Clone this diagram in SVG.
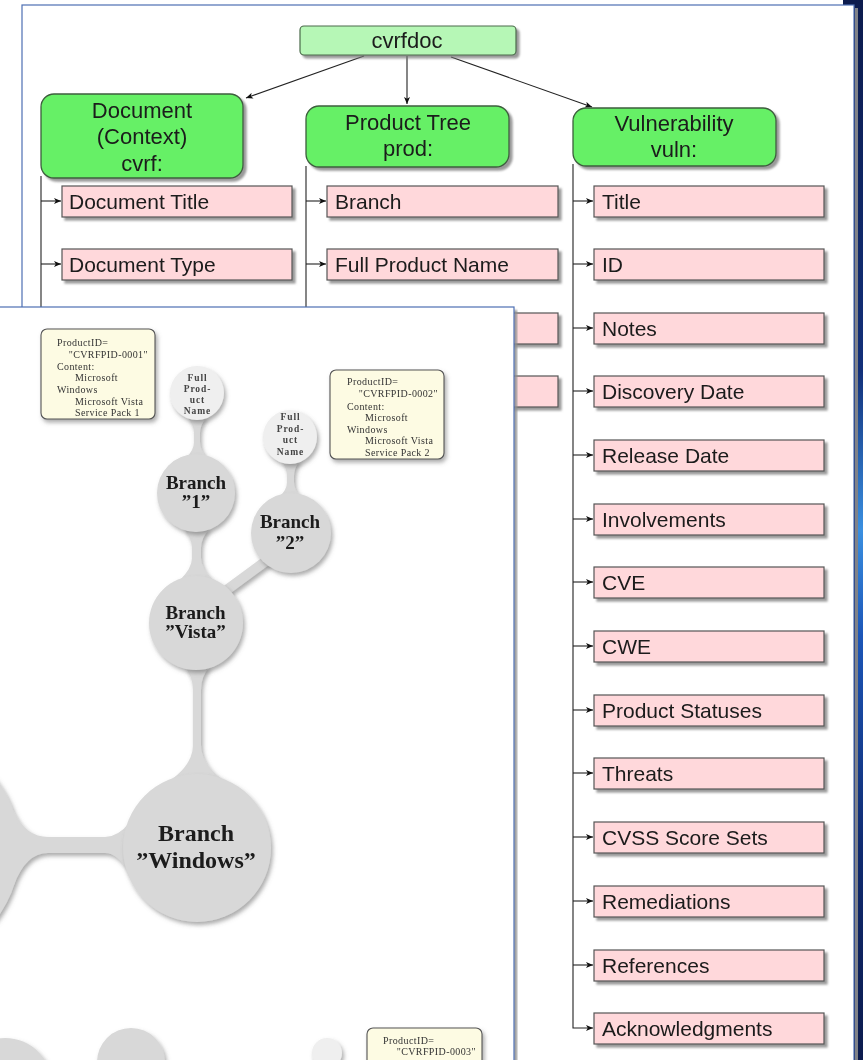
<svg xmlns="http://www.w3.org/2000/svg" width="863" height="1060" viewBox="0 0 863 1060">
<defs>
<style>
.pk{fill:#ffd8db;stroke:#555;stroke-width:1.2}
.gr{fill:#66f066;stroke:#3d5e3d;stroke-width:1.3}
.lbl{font-family:"Liberation Sans",Arial,sans-serif;font-size:21px;fill:#1a1a1a}
.glbl{font-family:"Liberation Sans",Arial,sans-serif;font-size:22px;fill:#1a1a1a;text-anchor:middle}
.ln{fill:none;stroke:#222;stroke-width:1.1}
.note{fill:#fdfbe3;stroke:#555;stroke-width:1.1}
.nt{font-family:"Liberation Serif","Times New Roman",serif;font-size:10px;letter-spacing:0.4px;fill:#333}
.bub{fill:#d8d8d8}
.fpn{fill:#efefef}
.ft{font-family:"Liberation Serif","Times New Roman",serif;font-size:9.5px;font-weight:bold;letter-spacing:0.9px;fill:#444;text-anchor:middle}
.bt{font-family:"Liberation Serif","Times New Roman",serif;font-size:19px;font-weight:bold;fill:#1a1a1a;text-anchor:middle}
.btw{font-family:"Liberation Serif","Times New Roman",serif;font-size:24px;font-weight:bold;fill:#1a1a1a;text-anchor:middle}
</style>
<marker id="arr" viewBox="0 0 7 6" refX="7" refY="3" markerWidth="7" markerHeight="6" markerUnits="userSpaceOnUse" orient="auto">
<path d="M0,0 L7,3 L0,6 L1.8,3 Z" fill="#111"/>
</marker>
<filter id="sh" x="-10%" y="-10%" width="130%" height="140%">
<feDropShadow dx="3" dy="3" stdDeviation="1" flood-color="#777" flood-opacity="0.75"/>
</filter>
<filter id="bsh" x="-20%" y="-20%" width="150%" height="150%">
<feDropShadow dx="2" dy="3" stdDeviation="2" flood-color="#666" flood-opacity="0.55"/>
</filter>
<filter id="blur1"><feGaussianBlur stdDeviation="1.2"/></filter>
<linearGradient id="desk" x1="0" y1="0" x2="0" y2="1">
<stop offset="0" stop-color="#0c1b4d"/>
<stop offset="0.35" stop-color="#12307a"/>
<stop offset="0.5" stop-color="#3a8fe0"/>
<stop offset="0.6" stop-color="#1c56b8"/>
<stop offset="0.8" stop-color="#0f2a70"/>
<stop offset="1" stop-color="#0c1b4d"/>
</linearGradient>
</defs>

<!-- background / desktop -->
<rect x="0" y="0" width="863" height="1060" fill="#ffffff"/>
<rect x="843" y="0" width="20" height="1060" fill="#0c1b4d"/>
<rect x="857" y="0" width="6" height="1060" fill="url(#desk)"/>
<rect x="855" y="8" width="3" height="1060" fill="#808288"/>

<!-- main frame -->
<rect x="22" y="5" width="832" height="1080" fill="#ffffff" stroke="#4d6fb3" stroke-width="1.2"/>

<!-- connectors of the cvrfdoc tree -->
<g id="connectors">
<line class="ln" x1="364" y1="56" x2="246" y2="98" marker-end="url(#arr)"/>
<line class="ln" x1="407" y1="56" x2="407" y2="104" marker-end="url(#arr)"/>
<line class="ln" x1="451" y1="57" x2="592" y2="107" marker-end="url(#arr)"/>
<path class="ln" d="M41 176 V1060"/>
<path class="ln" d="M41 201 H61" marker-end="url(#arr)"/>
<path class="ln" d="M41 264 H61" marker-end="url(#arr)"/>
<path class="ln" d="M306 166 V1060"/>
<path class="ln" d="M306 201 H326" marker-end="url(#arr)"/>
<path class="ln" d="M306 264 H326" marker-end="url(#arr)"/>
<path class="ln" d="M306 328 H326" marker-end="url(#arr)"/>
<path class="ln" d="M306 391 H326" marker-end="url(#arr)"/>
<path class="ln" d="M573 164 V1028 H593" marker-end="url(#arr)"/>
<path class="ln" d="M573 201 H593" marker-end="url(#arr)"/>
<path class="ln" d="M573 264 H593" marker-end="url(#arr)"/>
<path class="ln" d="M573 328 H593" marker-end="url(#arr)"/>
<path class="ln" d="M573 391 H593" marker-end="url(#arr)"/>
<path class="ln" d="M573 455 H593" marker-end="url(#arr)"/>
<path class="ln" d="M573 519 H593" marker-end="url(#arr)"/>
<path class="ln" d="M573 582 H593" marker-end="url(#arr)"/>
<path class="ln" d="M573 646 H593" marker-end="url(#arr)"/>
<path class="ln" d="M573 710 H593" marker-end="url(#arr)"/>
<path class="ln" d="M573 773 H593" marker-end="url(#arr)"/>
<path class="ln" d="M573 837 H593" marker-end="url(#arr)"/>
<path class="ln" d="M573 901 H593" marker-end="url(#arr)"/>
<path class="ln" d="M573 965 H593" marker-end="url(#arr)"/>
</g>

<!-- top nodes -->
<g id="cvrfdoc" filter="url(#sh)">
<rect x="300" y="26" width="216" height="29" rx="4" fill="#b6f7b6" stroke="#4a6a4a" stroke-width="1.2"/>
<text class="glbl" x="407" y="48">cvrfdoc</text>
</g>
<g id="document" filter="url(#sh)">
<rect class="gr" x="41" y="94" width="202" height="84" rx="13"/>
<text class="glbl" x="142" y="118">Document</text>
<text class="glbl" x="142" y="144">(Context)</text>
<text class="glbl" x="142" y="171">cvrf:</text>
</g>
<g id="product-tree" filter="url(#sh)">
<rect class="gr" x="306" y="106" width="203" height="61" rx="13"/>
<text class="glbl" x="408" y="130">Product Tree</text>
<text class="glbl" x="408" y="156">prod:</text>
</g>
<g id="vulnerability" filter="url(#sh)">
<rect class="gr" x="573" y="108" width="203" height="58" rx="13"/>
<text class="glbl" x="674" y="131">Vulnerability</text>
<text class="glbl" x="674" y="157">vuln:</text>
</g>

<!-- document column -->
<g id="doc-title" filter="url(#sh)"><rect class="pk" x="62" y="186" width="230" height="31"/><text class="lbl" x="69" y="208.5">Document Title</text></g>
<g id="doc-type" filter="url(#sh)"><rect class="pk" x="62" y="249" width="230" height="31"/><text class="lbl" x="69" y="271.5">Document Type</text></g>

<!-- product column -->
<g id="prod-branch" filter="url(#sh)"><rect class="pk" x="327" y="186" width="231" height="31"/><text class="lbl" x="335" y="208.5">Branch</text></g>
<g id="prod-fpn" filter="url(#sh)"><rect class="pk" x="327" y="249" width="231" height="31"/><text class="lbl" x="335" y="271.5">Full Product Name</text></g>
<g id="prod-row3" filter="url(#sh)"><rect class="pk" x="327" y="313" width="231" height="31"/></g>
<g id="prod-row4" filter="url(#sh)"><rect class="pk" x="327" y="376" width="231" height="31"/></g>

<!-- vulnerability column -->
<g id="v-title" filter="url(#sh)"><rect class="pk" x="594" y="186" width="230" height="31"/><text class="lbl" x="602" y="208.5">Title</text></g>
<g id="v-id" filter="url(#sh)"><rect class="pk" x="594" y="249" width="230" height="31"/><text class="lbl" x="602" y="271.5">ID</text></g>
<g id="v-notes" filter="url(#sh)"><rect class="pk" x="594" y="313" width="230" height="31"/><text class="lbl" x="602" y="335.5">Notes</text></g>
<g id="v-discovery" filter="url(#sh)"><rect class="pk" x="594" y="376" width="230" height="31"/><text class="lbl" x="602" y="398.5">Discovery Date</text></g>
<g id="v-release" filter="url(#sh)"><rect class="pk" x="594" y="440" width="230" height="31"/><text class="lbl" x="602" y="462.5">Release Date</text></g>
<g id="v-involvements" filter="url(#sh)"><rect class="pk" x="594" y="504" width="230" height="31"/><text class="lbl" x="602" y="526.5">Involvements</text></g>
<g id="v-cve" filter="url(#sh)"><rect class="pk" x="594" y="567" width="230" height="31"/><text class="lbl" x="602" y="589.5">CVE</text></g>
<g id="v-cwe" filter="url(#sh)"><rect class="pk" x="594" y="631" width="230" height="31"/><text class="lbl" x="602" y="653.5">CWE</text></g>
<g id="v-statuses" filter="url(#sh)"><rect class="pk" x="594" y="695" width="230" height="31"/><text class="lbl" x="602" y="717.5">Product Statuses</text></g>
<g id="v-threats" filter="url(#sh)"><rect class="pk" x="594" y="758" width="230" height="31"/><text class="lbl" x="602" y="780.5">Threats</text></g>
<g id="v-cvss" filter="url(#sh)"><rect class="pk" x="594" y="822" width="230" height="31"/><text class="lbl" x="602" y="844.5">CVSS Score Sets</text></g>
<g id="v-remediations" filter="url(#sh)"><rect class="pk" x="594" y="886" width="230" height="31"/><text class="lbl" x="602" y="908.5">Remediations</text></g>
<g id="v-references" filter="url(#sh)"><rect class="pk" x="594" y="950" width="230" height="31"/><text class="lbl" x="602" y="972.5">References</text></g>
<g id="v-ack" filter="url(#sh)"><rect class="pk" x="594" y="1013" width="230" height="31"/><text class="lbl" x="602" y="1035.5">Acknowledgments</text></g>

<!-- overlaid mind-map screenshot -->
<rect x="514" y="310" width="3" height="760" fill="#8f8f8f" filter="url(#blur1)"/>
<rect x="-2" y="307" width="516" height="770" fill="#ffffff" stroke="#4d6fb3" stroke-width="1.2"/>

<g id="mindmap-shapes" filter="url(#bsh)">
<path class="bub" d="M187 416 Q194 425 194 433 L194 442 Q194 450 186 458 L207 458 Q200 450 200 442 L200 433 Q200 425 207 416 Z"/>
<path class="bub" d="M281 460 Q287 468 287 476 L287 482 Q287 490 279 497 L301 497 Q294 490 294 482 L294 476 Q294 468 300 460 Z"/>
<path class="bub" d="M183 528 Q192 538 192 548 L192 558 Q192 568 180 580 L213 580 Q201 568 201 558 L201 548 Q201 538 210 528 Z"/>
<path class="bub" d="M184 666 Q193 676 193 690 L193 745 Q193 765 168 782 L226 782 Q201 765 201 745 L201 690 Q201 676 210 666 Z"/>
<path class="bub" d="M14 812 Q26 837 48 837 L105 837 Q118 837 130 822 L130 874 Q118 853 105 853 L48 853 Q26 853 14 885 Z"/>
<line x1="217" y1="597" x2="270" y2="558" stroke="#d8d8d8" stroke-width="10"/>
<circle class="bub" cx="-95" cy="849" r="115"/>
<circle class="bub" cx="5" cy="1085" r="47"/>
<circle class="bub" cx="131" cy="1062" r="34"/>
<circle cx="327" cy="1053" r="15" fill="#efefef"/>
</g>

<g id="fpn-1" filter="url(#bsh)">
<circle class="fpn" cx="197" cy="393" r="27"/>
<text class="ft" x="197.5" y="381">Full</text>
<text class="ft" x="197.5" y="392">Prod-</text>
<text class="ft" x="197.5" y="403">uct</text>
<text class="ft" x="197.5" y="414">Name</text>
</g>
<g id="fpn-2" filter="url(#bsh)">
<circle class="fpn" cx="290" cy="437" r="27"/>
<text class="ft" x="290.5" y="420">Full</text>
<text class="ft" x="290.5" y="431.5">Prod-</text>
<text class="ft" x="290.5" y="443">uct</text>
<text class="ft" x="290.5" y="454.5">Name</text>
</g>
<g id="branch-1" filter="url(#bsh)">
<circle class="bub" cx="196" cy="493" r="39"/>
<text class="bt" x="196" y="489">Branch</text>
<text class="bt" x="196" y="508">”1”</text>
</g>
<g id="branch-2" filter="url(#bsh)">
<circle class="bub" cx="291" cy="533" r="40"/>
<text class="bt" x="290" y="528">Branch</text>
<text class="bt" x="290" y="549">”2”</text>
</g>
<g id="branch-vista" filter="url(#bsh)">
<circle class="bub" cx="196" cy="623" r="47"/>
<text class="bt" x="195.5" y="619">Branch</text>
<text class="bt" x="195.5" y="638">”Vista”</text>
</g>
<g id="branch-windows" filter="url(#bsh)">
<circle class="bub" cx="197" cy="848" r="74"/>
<text class="btw" x="196" y="841">Branch</text>
<text class="btw" x="196" y="868">”Windows”</text>
</g>

<g id="note-1" filter="url(#bsh)">
<rect class="note" x="41" y="329" width="114" height="90" rx="6"/>
<text class="nt" x="57" y="346">ProductID=</text>
<text class="nt" x="148" y="357.5" text-anchor="end">"CVRFPID-0001"</text>
<text class="nt" x="57" y="369.5">Content:</text>
<text class="nt" x="75" y="381">Microsoft</text>
<text class="nt" x="57" y="393">Windows</text>
<text class="nt" x="75" y="404.5">Microsoft Vista</text>
<text class="nt" x="75" y="416">Service Pack 1</text>
</g>
<g id="note-2" filter="url(#bsh)">
<rect class="note" x="330" y="370" width="114" height="89" rx="6"/>
<text class="nt" x="347" y="385">ProductID=</text>
<text class="nt" x="438" y="397" text-anchor="end">"CVRFPID-0002"</text>
<text class="nt" x="347" y="409.5">Content:</text>
<text class="nt" x="365" y="421">Microsoft</text>
<text class="nt" x="347" y="432.5">Windows</text>
<text class="nt" x="365" y="444">Microsoft Vista</text>
<text class="nt" x="365" y="456">Service Pack 2</text>
</g>
<g id="note-3" filter="url(#bsh)">
<rect class="note" x="367" y="1028" width="115" height="60" rx="6"/>
<text class="nt" x="383" y="1043.5">ProductID=</text>
<text class="nt" x="476" y="1055" text-anchor="end">"CVRFPID-0003"</text>
</g>
</svg>
